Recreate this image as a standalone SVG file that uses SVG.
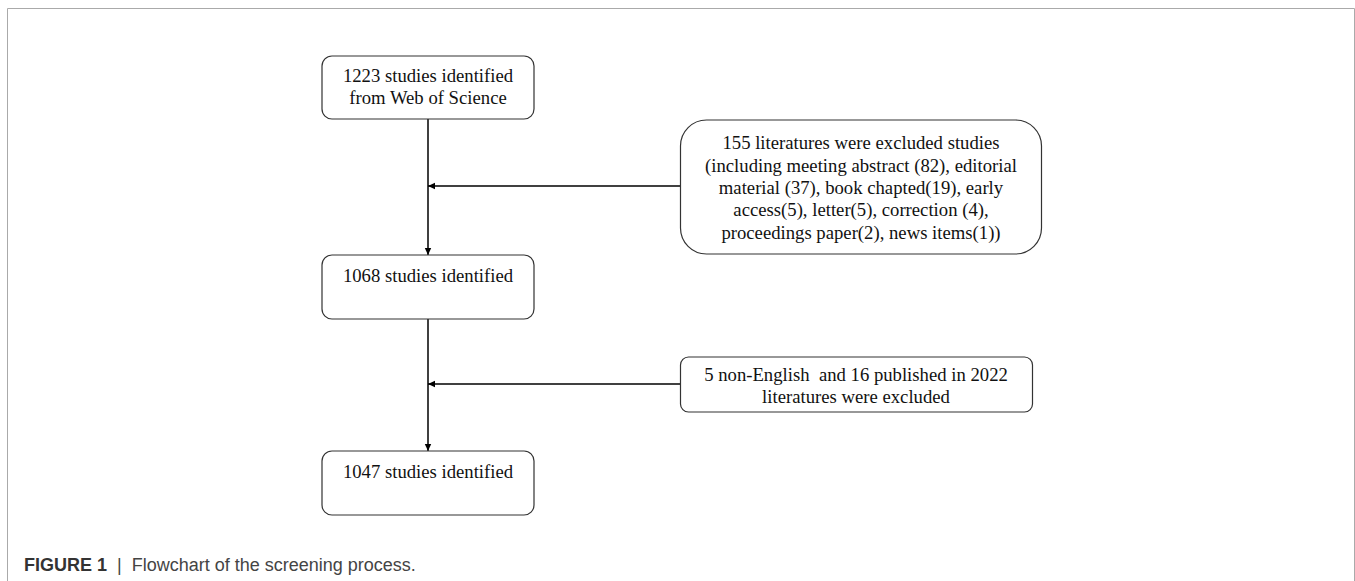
<svg xmlns="http://www.w3.org/2000/svg" width="1355" height="581" viewBox="0 0 1355 581">
<style>
.box{fill:#fff;stroke:#333;stroke-width:1.2}
.t{font-family:"Liberation Serif","Times New Roman",serif;font-size:18.7px;fill:#111;text-anchor:middle}
.c{stroke:#000;stroke-width:1.5;fill:none}
.cap{font-family:"Liberation Sans",Arial,sans-serif;font-size:18px;fill:#444}
</style>
<defs>
<marker id="ah" markerWidth="8" markerHeight="8" refX="7" refY="4" orient="auto" markerUnits="userSpaceOnUse">
<path d="M0,0.8 L7,4 L0,7.2 Z" fill="#000"/>
</marker>
</defs>
<rect width="1355" height="581" fill="#fff"/>
<path d="M7.5,581 V8.5 H1354.5 V581" fill="none" stroke="#aaa" stroke-width="1"/>
<g id="connectors">
<line class="c" x1="428" y1="119" x2="428" y2="255" marker-end="url(#ah)"/>
<line class="c" x1="680" y1="186" x2="428" y2="186" marker-end="url(#ah)"/>
<line class="c" x1="428" y1="319" x2="428" y2="451" marker-end="url(#ah)"/>
<line class="c" x1="680" y1="384" x2="428" y2="384" marker-end="url(#ah)"/>
</g>
<g id="n1">
<rect class="box" x="322" y="56" width="212" height="63" rx="10"/>
<text class="t" x="428" y="82">1223 studies identified</text>
<text class="t" x="428" y="104">from Web of Science</text>
</g>
<g id="n2">
<rect class="box" x="680.5" y="120" width="361" height="134" rx="26"/>
<text class="t" x="861" y="149">155 literatures were excluded studies</text>
<text class="t" x="861" y="172">(including meeting abstract (82), editorial</text>
<text class="t" x="861" y="194">material (37), book chapted(19), early</text>
<text class="t" x="861" y="216">access(5), letter(5), correction (4),</text>
<text class="t" x="861" y="239">proceedings paper(2), news items(1))</text>
</g>
<g id="n3">
<rect class="box" x="322" y="255" width="212" height="64" rx="10"/>
<text class="t" x="428" y="282">1068 studies identified</text>
</g>
<g id="n4">
<rect class="box" x="680.5" y="357" width="352" height="55" rx="8"/>
<text class="t" x="856" y="381" xml:space="preserve">5 non-English  and 16 published in 2022</text>
<text class="t" x="856" y="403">literatures were excluded</text>
</g>
<g id="n5">
<rect class="box" x="322" y="451" width="212" height="64" rx="10"/>
<text class="t" x="428" y="478">1047 studies identified</text>
</g>
<text class="cap" x="24" y="571" xml:space="preserve"><tspan font-weight="bold" fill="#333">FIGURE 1</tspan>  |  Flowchart of the screening process.</text>
</svg>
